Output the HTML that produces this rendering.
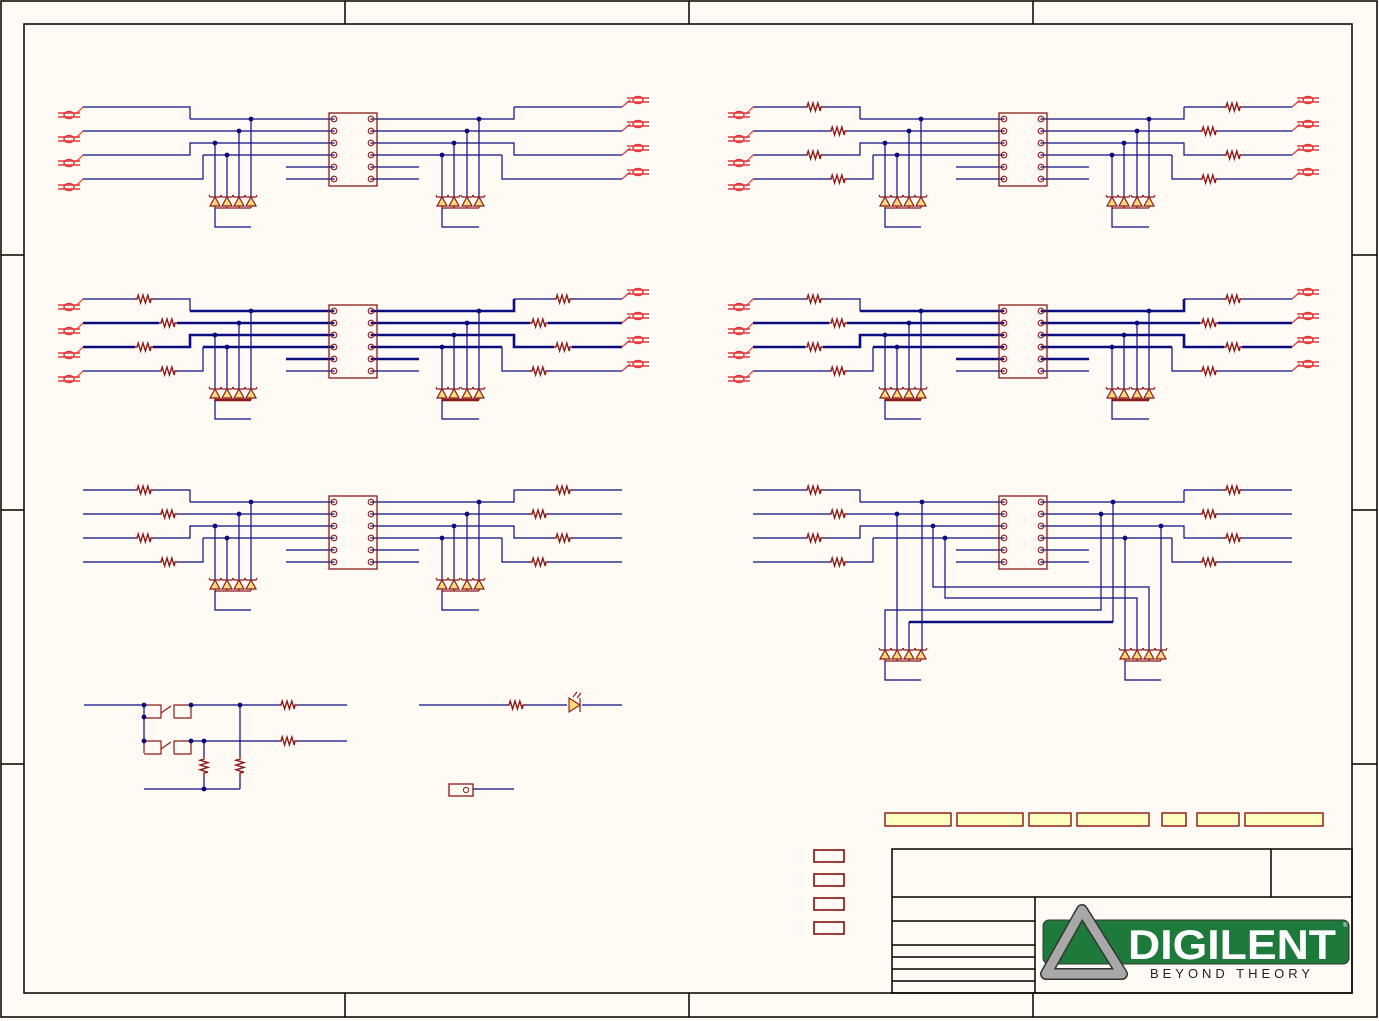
<!DOCTYPE html>
<html><head><meta charset="utf-8"><style>
html,body{margin:0;padding:0;background:#fffbf4;}
svg{display:block;}
</style></head><body>
<svg id="s" width="1379" height="1021" viewBox="0 0 1379 1021" xmlns="http://www.w3.org/2000/svg">
<rect x="0" y="0" width="1379" height="1021" fill="#fffbf4"/>
<g id="frame" fill="none" stroke="#000" stroke-width="1.5">
<rect x="1" y="1" width="1376" height="1016"/>
<rect x="24" y="24" width="1328" height="969"/>
<line x1="345" y1="1" x2="345" y2="24"/><line x1="689" y1="1" x2="689" y2="24"/><line x1="1033" y1="1" x2="1033" y2="24"/>
<line x1="345" y1="993" x2="345" y2="1017"/><line x1="689" y1="993" x2="689" y2="1017"/><line x1="1033" y1="993" x2="1033" y2="1017"/>
<line x1="1" y1="255" x2="24" y2="255"/><line x1="1" y1="510" x2="24" y2="510"/><line x1="1" y1="764" x2="24" y2="764"/>
<line x1="1352" y1="255" x2="1377" y2="255"/><line x1="1352" y1="510" x2="1377" y2="510"/><line x1="1352" y1="764" x2="1377" y2="764"/>
<rect x="892" y="849" width="460" height="144"/>
<line x1="1271" y1="849" x2="1271" y2="897"/>
<line x1="892" y1="897" x2="1352" y2="897"/>
<line x1="1035" y1="897" x2="1035" y2="993"/>
<line x1="892" y1="921" x2="1035" y2="921"/>
<line x1="892" y1="945" x2="1035" y2="945"/>
<line x1="892" y1="957" x2="1035" y2="957"/>
<line x1="892" y1="969" x2="1035" y2="969"/>
<line x1="892" y1="981" x2="1035" y2="981"/>
</g>
<g fill="#ffffc0" stroke="#800000" stroke-width="1.3">
<rect x="885" y="813" width="66" height="13"/><rect x="957" y="813" width="66" height="13"/>
<rect x="1029" y="813" width="42" height="13"/><rect x="1077" y="813" width="72" height="13"/>
<rect x="1162" y="813" width="24" height="13"/><rect x="1197" y="813" width="42" height="13"/>
<rect x="1245" y="813" width="78" height="13"/>
</g>
<g fill="none" stroke="#800000" stroke-width="1.5">
<rect x="814" y="850" width="30" height="12"/><rect x="814" y="874" width="30" height="12"/>
<rect x="814" y="898" width="30" height="12"/><rect x="814" y="922" width="30" height="12"/>
</g>
<!-- logo -->
<rect x="1043" y="920" width="306" height="44" rx="6" fill="#1e7a3a" stroke="#333" stroke-width="1"/>
<text x="1128" y="959" font-family="Liberation Sans, sans-serif" font-weight="bold" font-size="42" fill="#fff" textLength="208" lengthAdjust="spacingAndGlyphs">DIGILENT</text>
<text x="1343" y="927" font-family="Liberation Sans, sans-serif" font-size="6" fill="#fff">®</text>
<text x="1150" y="978" font-family="Liberation Sans, sans-serif" font-size="13" fill="#222" textLength="160" lengthAdjust="spacing">BEYOND THEORY</text>
<polygon points="1082,910 1046,974 1122,974" fill="none" stroke="#333" stroke-width="12" stroke-linejoin="round"/>
<polygon points="1082,910 1046,974 1122,974" fill="none" stroke="#a8a8a8" stroke-width="9" stroke-linejoin="round"/>
<polygon points="1083,943 1071,963 1096,963" fill="#1e7a3a"/>
<g id="sch"></g>
</svg>
<script>
var W='#0c0c80',R='#8b1a1a',BG='#fffbf4';
var out=[];
function ln(pts,th,col){out.push('<polyline points="'+pts.map(function(p){return p[0]+','+p[1]}).join(' ')+'" fill="none" stroke="'+(col||W)+'" stroke-width="'+(th?2.6:1.2)+'"/>');}
function dot(x,y){out.push('<circle cx="'+x+'" cy="'+y+'" r="2.4" fill="'+W+'"/>');}
function resH(x,y){out.push('<rect x="'+(x-9)+'" y="'+(y-5)+'" width="18" height="10" fill="'+BG+'"/>');
 var p=[[x-9,y],[x-7,y]];var s=[-4,4,-4,4,-4,4];for(var i=0;i<6;i++)p.push([x-7+i*2.4+1.2,y+s[i]]);p.push([x+7,y],[x+9,y]);
 out.push('<polyline points="'+p.map(function(q){return q[0]+','+q[1]}).join(' ')+'" fill="none" stroke="'+R+'" stroke-width="1.4"/>');}
function resV(x,y){out.push('<rect x="'+(x-5)+'" y="'+(y-10)+'" width="10" height="20" fill="'+BG+'"/>');
 var p=[[x,y-10],[x,y-7]];var s=[-4,4,-4,4,-4,4];for(var i=0;i<6;i++)p.push([x+s[i],y-7+i*2.4+1.2]);p.push([x,y+7],[x,y+10]);
 out.push('<polyline points="'+p.map(function(q){return q[0]+','+q[1]}).join(' ')+'" fill="none" stroke="'+R+'" stroke-width="1.4"/>');}
function conn(x,y){out.push('<g fill="none" stroke="#e03a3a" stroke-width="1.5"><ellipse cx="'+x+'" cy="'+y+'" rx="5" ry="3.5"/><line x1="'+(x-11)+'" y1="'+(y-2)+'" x2="'+(x+11)+'" y2="'+(y-2)+'"/><line x1="'+(x-11)+'" y1="'+(y+2)+'" x2="'+(x+11)+'" y2="'+(y+2)+'"/></g>');}
function diodes(xs,top,th){var bot=top+11;xs.forEach(function(x){
 out.push('<polygon points="'+x+','+top+' '+(x-5)+','+(top+9)+' '+(x+5)+','+(top+9)+'" fill="#ffd97a" stroke="'+R+'" stroke-width="1.2"/>');
 out.push('<polyline points="'+(x-6)+','+(top-2)+' '+(x-5)+','+top+' '+(x+5)+','+top+' '+(x+6)+','+(top-2)+'" fill="none" stroke="'+R+'" stroke-width="1.2"/>');
 ln([[x,top+9],[x,bot]],0,R);});
 ln([[xs[0],bot],[xs[xs.length-1],bot]],th,R);
 ln([[xs[0],bot],[xs[0],bot+19],[xs[xs.length-1],bot+19]]);}
function chip(ox,oy){out.push('<rect x="'+(ox+329)+'" y="'+(oy+113)+'" width="48" height="73" fill="none" stroke="'+R+'" stroke-width="1.3"/>');
 for(var i=0;i<6;i++){var y=oy+119+i*12;[334,371].forEach(function(x){out.push('<circle cx="'+(ox+x)+'" cy="'+y+'" r="2.8" fill="none" stroke="'+R+'" stroke-width="1.1"/><circle cx="'+(ox+x)+'" cy="'+y+'" r="0.8" fill="'+R+'"/>');});}}
function blk(ox,oy,o){
 function P(a){return a.map(function(p){return [p[0]+ox,p[1]+oy]})}
 var T=o.thick||{};
 ln(P([[83,107],[190,107],[190,119]]),0);ln(P([[190,119],[334,119]]),T.a);
 ln(P([[83,131],[334,131]]),T.b);
 ln(P([[83,155],[190,155],[190,143],[334,143]]),T.b);
 ln(P([[83,179],[203,179],[203,155]]),0);ln(P([[203,155],[334,155]]),T.a);
 ln(P([[286,167],[334,167]]),T.a);ln(P([[286,179],[334,179]]));
 ln(P([[371,119],[514,119],[514,107]]),T.a);ln(P([[514,107],[622,107]]));
 ln(P([[371,131],[622,131]]),T.b);
 ln(P([[371,143],[514,143],[514,155],[622,155]]),T.b);
 ln(P([[371,155],[502,155]]),T.a);ln(P([[502,155],[502,179],[622,179]]));
 ln(P([[371,167],[419,167]]),T.a);ln(P([[371,179],[419,179]]));
 if(o.res){[[144,107],[168,131],[144,155],[168,179],[563,107],[539,131],[563,155],[539,179]].forEach(function(p){resH(p[0]+ox,p[1]+oy);});}
 if(o.conn){[107,131,155,179].forEach(function(y,i){ln(P([[83,y],[76,y+7]]),0,'#e03a3a');conn(ox+69,oy+y+8);
   ln(P([[622,y],[630,y-7]]),0,'#e03a3a');conn(ox+638,oy+y-7);});}
 chip(ox,oy);
 if(!o.special){
  [[251,119],[239,131],[215,143],[227,155],[479,119],[467,131],[454,143],[442,155]].forEach(function(p){dot(p[0]+ox,p[1]+oy);ln(P([[p[0],p[1]],[p[0],197]]));});
  diodes([215,227,239,251].map(function(x){return x+ox}),oy+197,T.a);
  diodes([442,454,467,479].map(function(x){return x+ox}),oy+197,T.a);
 }
}
blk(0,0,{conn:1});
blk(670,0,{conn:1,res:1});
blk(0,192,{conn:1,res:1,thick:{a:1,b:1}});
blk(670,192,{conn:1,res:1,thick:{a:1,b:1}});
blk(0,383,{res:1});
blk(670,383,{res:1,special:1});
[[922,502],[897,514],[933,526],[945,538],[1113,502],[1101,514],[1161,526],[1125,538]].forEach(function(p){dot(p[0],p[1]);});
ln([[922,502],[922,650]]);ln([[897,514],[897,650]]);
ln([[933,526],[933,587],[1149,587],[1149,650]]);
ln([[945,538],[945,598],[1137,598],[1137,650]]);
ln([[1101,514],[1101,610],[885,610],[885,650]]);
ln([[1113,502],[1113,622]]);ln([[1113,622],[909,622]],1);ln([[909,622],[909,650]]);
ln([[1161,526],[1161,650]]);ln([[1125,538],[1125,650]]);
diodes([885,897,909,921],650);diodes([1125,1137,1149,1161],650);
ln([[84,705],[144,705]]);
ln([[144,705],[144,741]]);
function sw(y){ln([[144,y],[161,y],[161,y+13],[144,y+13]],0,R);ln([[161,y+8],[171,y+1]],0,R);ln([[174,y+13],[174,y],[191,y],[191,y+13],[174,y+13]],0,R);}
sw(705);sw(741);ln([[144,753],[144,741]],0,R);
dot(144,705);dot(144,717);dot(144,741);dot(191,705);dot(191,741);dot(240,705);dot(204,741);dot(204,789);
ln([[191,705],[347,705]]);ln([[191,741],[347,741]]);
resH(288,705);resH(288,741);
ln([[240,705],[240,789]]);ln([[204,741],[204,789]]);
ln([[144,789],[240,789]]);
resV(204,766);resV(240,766);
ln([[419,705],[622,705]]);resH(516,705);
out.push('<rect x="567" y="697" width="15" height="16" fill="'+BG+'"/>');
out.push('<polygon points="569,698 569,712 580,705" fill="#ffd97a" stroke="'+R+'" stroke-width="1.1"/>');
ln([[580,698],[580,712]],0,R);
ln([[573,697],[577,692]],0,R);ln([[577,698],[581,693]],0,R);
out.push('<rect x="449" y="784" width="24" height="12" fill="none" stroke="'+R+'" stroke-width="1.3"/><circle cx="466" cy="790" r="2.6" fill="none" stroke="'+R+'"/>');
ln([[473,789],[514,789]]);
document.getElementById('sch').innerHTML=out.join('');
</script>
</body></html>
